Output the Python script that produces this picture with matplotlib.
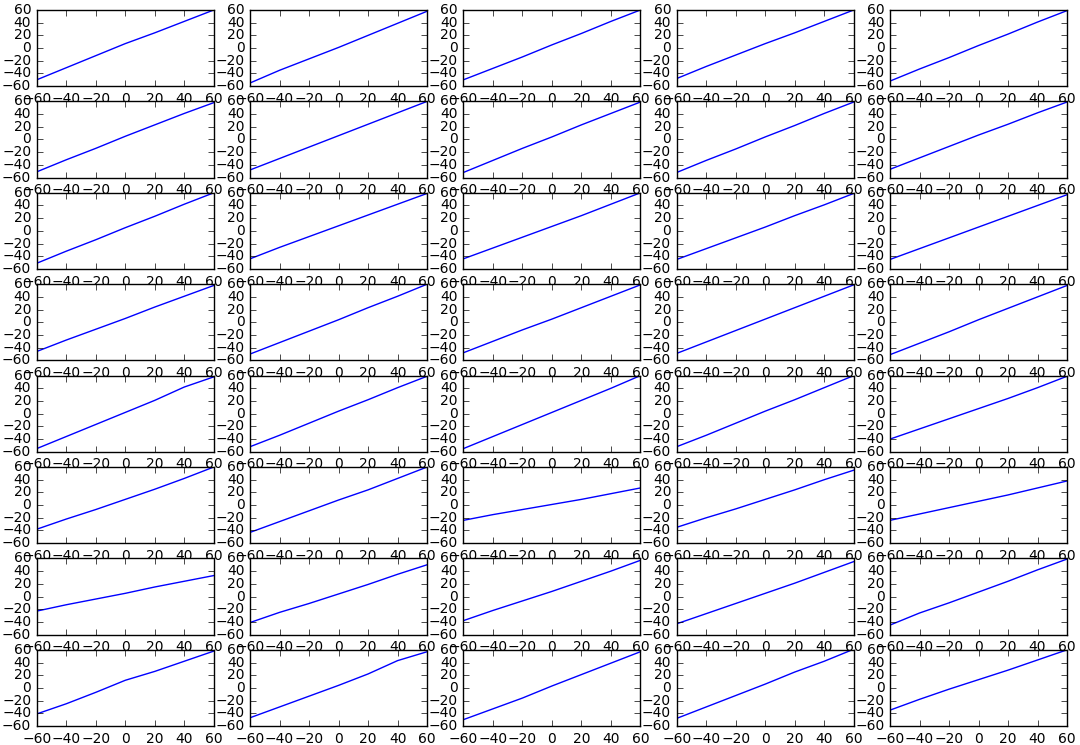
import matplotlib
matplotlib.use("Agg")
import matplotlib.pyplot as plt
import numpy as np

plt.style.use("classic")

x = [-60, -40, -20, 0, 20, 40, 60]

# one row of y values per panel, read left to right, top to bottom
ys = [
    [-50, -31, -12, 7, 24, 42, 60],
    [-55, -35, -17, 1, 20, 39, 58],
    [-50, -32, -14, 5, 23, 42, 60],
    [-48, -29, -11, 7, 24, 42, 60],
    [-52, -33, -15, 4, 22, 41, 59],

    [-51, -32, -14, 5, 23, 41, 58],
    [-48, -30, -12, 6, 24, 42, 60],
    [-52, -33, -14, 4, 23, 41, 59],
    [-52, -33, -15, 4, 22, 41, 59],
    [-47, -29, -11, 7, 24, 42, 59],

    [-51, -32, -14, 5, 23, 42, 60],
    [-44, -26, -9, 8, 25, 42, 59],
    [-44, -27, -10, 7, 24, 42, 60],
    [-45, -28, -11, 6, 24, 41, 59],
    [-45, -28, -11, 6, 23, 40, 57],

    [-46, -28, -11, 6, 24, 41, 58],
    [-50, -32, -14, 4, 23, 41, 60],
    [-48, -30, -12, 5, 23, 41, 59],
    [-49, -31, -13, 5, 23, 41, 59],
    [-51, -33, -15, 4, 22, 40, 58],

    [-55, -36, -17, 2, 21, 42, 58],
    [-52, -34, -15, 4, 22, 41, 59],
    [-55, -36, -17, 2, 21, 40, 60],
    [-52, -34, -15, 4, 22, 41, 60],
    [-40, -24, -8, 8, 24, 41, 59],

    [-38, -22, -7, 9, 25, 42, 60],
    [-43, -26, -9, 8, 24, 42, 60],
    [-24, -15, -7, 1, 9, 18, 27],
    [-35, -20, -6, 9, 24, 40, 55],
    [-24, -14, -4, 6, 16, 27, 38],

    [-23, -13, -4, 5, 15, 24, 33],
    [-41, -25, -11, 4, 19, 35, 50],
    [-38, -22, -7, 8, 24, 40, 57],
    [-43, -27, -11, 5, 21, 38, 55],
    [-45, -26, -10, 7, 24, 42, 59],

    [-41, -25, -7, 12, 26, 42, 58],
    [-47, -30, -13, 4, 22, 43, 57],
    [-50, -33, -16, 3, 21, 39, 57],
    [-48, -30, -12, 6, 25, 42, 61],
    [-35, -18, -2, 13, 28, 44, 60],
]

ticks = [-60, -40, -20, 0, 20, 40, 60]

fig, axes = plt.subplots(8, 5, figsize=(10.8, 7.45), dpi=100)
fig.subplots_adjust(left=0.034, right=0.988, bottom=0.0255, top=0.9866,
                    wspace=0.205, hspace=0.2)

for ax, y in zip(axes.flat, ys):
    ax.plot(x, y, "b-")
    ax.set_xlim(-60, 60)
    ax.set_ylim(-60, 60)
    ax.set_xticks(ticks)
    ax.set_yticks(ticks)
    ax.tick_params(labelsize=10)

fig.savefig("out.png", dpi=100)
